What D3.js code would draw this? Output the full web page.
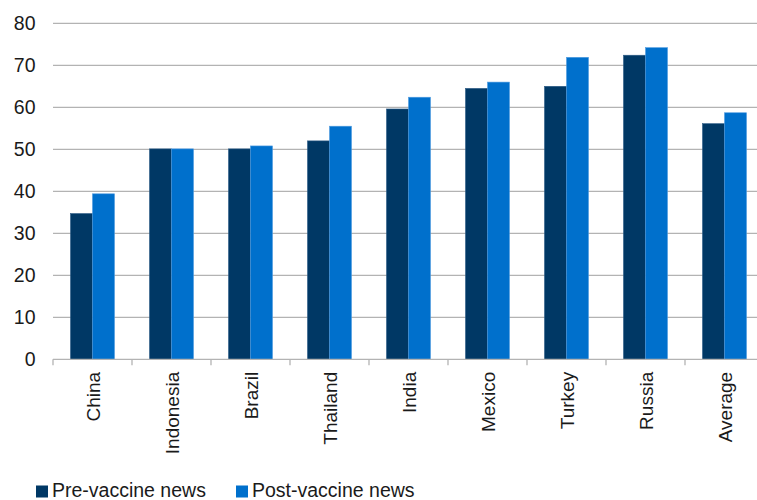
<!DOCTYPE html>
<html>
<head>
<meta charset="utf-8">
<script src="https://cdn.jsdelivr.net/npm/d3@7"></script>
<style>
  html, body { margin: 0; padding: 0; background: #fff; }
  svg { display: block; font-family: "Liberation Sans", Arial, sans-serif; }
</style>
</head>
<body>
<svg id="chart" width="757" height="500"></svg>
<script>
// Country categories along the x axis
const categories = ["China", "Indonesia", "Brazil", "Thailand", "India", "Mexico", "Turkey", "Russia", "Average"];
// Series values
const preVaccine  = [34.7, 50.1, 50.1, 52.0, 59.6, 64.5, 65.0, 72.4, 56.1];
const postVaccine = [39.4, 50.1, 50.8, 55.5, 62.4, 66.0, 71.9, 74.2, 58.7];
const seriesNames = ["Pre-vaccine news", "Post-vaccine news"];
const seriesColors = ["#003865", "#0070CC"];
const yTicks = [0, 10, 20, 30, 40, 50, 60, 70, 80];

const svg = d3.select("#chart");
const plotLeft = 53, plotRight = 764, plotTop = 23.3, plotBottom = 359.3;
const textColor = "#1a1a1a";

const x = d3.scaleBand().domain(categories).range([plotLeft, plotRight]).paddingInner(0).paddingOuter(0);
const x1 = d3.scaleBand().domain([0, 1]).range([0, 44]);
const y = d3.scaleLinear().domain([0, 80]).range([plotBottom, plotTop]);

// Gridlines
svg.append("g").selectAll("line").data(yTicks.filter(d => d > 0)).join("line")
  .attr("x1", plotLeft).attr("x2", 757)
  .attr("y1", d => y(d)).attr("y2", d => y(d))
  .attr("stroke", "#b3b3b3").attr("stroke-width", 1.3);

// Y tick labels
svg.append("g").selectAll("text").data(yTicks).join("text")
  .attr("x", 35.5).attr("y", d => y(d))
  .attr("dy", "0.36em")
  .attr("text-anchor", "end")
  .attr("font-size", 19.5)
  .attr("fill", textColor)
  .text(d => d);

// Bars
const series = [preVaccine, postVaccine];
const groups = svg.append("g").selectAll("g").data(categories).join("g")
  .attr("transform", d => `translate(${x(d) + (x.bandwidth() - 44) / 2},0)`);
groups.selectAll("rect").data((d, i) => series.map((s, k) => ({k, v: s[i]}))).join("rect")
  .attr("x", d => x1(d.k))
  .attr("width", x1.bandwidth())
  .attr("y", d => y(d.v))
  .attr("height", d => y(0) - y(d.v))
  .attr("fill", d => seriesColors[d.k])
  .attr("stroke", d => d.k === 0 ? "#2b5a85" : "#4f9be0")
  .attr("stroke-width", 0.6);

// X axis with tick marks at band boundaries
const axisG = svg.append("g");
axisG.append("line").attr("x1", plotLeft).attr("x2", 757).attr("y1", plotBottom).attr("y2", plotBottom)
  .attr("stroke", "#b3b3b3").attr("stroke-width", 1.3);
axisG.selectAll("line.tick").data(categories).join("line").attr("class", "tick")
  .attr("x1", d => x(d)).attr("x2", d => x(d))
  .attr("y1", plotBottom).attr("y2", plotBottom + 6)
  .attr("stroke", "#b3b3b3").attr("stroke-width", 1.3);

// Rotated category labels
svg.append("g").selectAll("text").data(categories).join("text")
  .attr("transform", d => `translate(${x(d) + x.bandwidth() / 2 + 7},${plotBottom + 12.5}) rotate(-90)`)
  .attr("text-anchor", "end")
  .attr("font-size", 19)
  .attr("fill", textColor)
  .text(d => d);

// Legend
const legend = svg.append("g");
const legendX = [36, 236];
seriesNames.forEach((name, k) => {
  legend.append("rect").attr("x", legendX[k]).attr("y", 485.5).attr("width", 12).attr("height", 12)
    .attr("fill", seriesColors[k]);
  legend.append("text").attr("x", legendX[k] + 16).attr("y", 497)
    .attr("font-size", 19.5).attr("fill", textColor).text(name);
});
</script>
</body>
</html>
